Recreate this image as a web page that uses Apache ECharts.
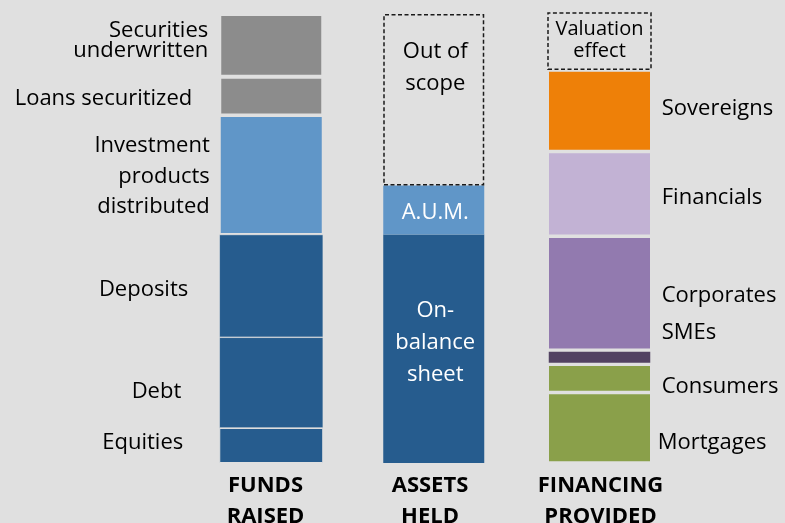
<!DOCTYPE html>
<html>
<head>
<meta charset="utf-8">
<script src="https://cdn.jsdelivr.net/npm/echarts@6/dist/echarts.min.js"></script>
<style>
  html, body { margin: 0; padding: 0; background: #e0e0e0; }
  #chart { width: 785px; height: 523px; }
</style>
</head>
<body>
<div id="chart"></div>
<script>
// ---- Data (stacked from bottom to top, share of total funds raised) ----
const categories = ['FUNDS\nRAISED', 'ASSETS\nHELD', 'FINANCING\nPROVIDED'];

const fundsNames  = ['Equities', 'Debt', 'Deposits', 'Investment\nproducts\ndistributed', 'Loans securitized', 'Securities\nunderwritten'];
const fundsValues = [7.8, 20.2, 22.9, 26.5, 8.6, 14.0];

const assetsNames  = ['On-\nbalance\nsheet', 'A.U.M.', 'Out of\nscope'];
const assetsValues = [50.9, 10.9, 38.2];

const financingNames  = ['Mortgages', 'Consumers', 'SMEs', 'Corporates', 'Financials', 'Sovereigns', 'Valuation\neffect'];
const financingValues = [15.7, 6.3, 3.1, 25.4, 18.9, 18.1, 12.9];

// ---- Styles ----
const BG = '#e0e0e0';
const FONT = "'Open Sans', 'Noto Sans', sans-serif";
const DARK = '#265c8e', LIGHT = '#6096c8', GRAY = '#8c8c8c', GREEN = '#8aa04a';

const fundsStyle = [
  { color: DARK,  bw: 1,   dist: 36,  dy: -2.5, lh: 24 },
  { color: DARK,  bw: 0.6, dist: 38,  dy: 9,    lh: 24 },
  { color: DARK,  bw: 0.6, dist: 31,  dy: 4,    lh: 24 },
  { color: LIGHT, bw: 1.5, dist: 9.5, dy: 1.5,  lh: 30.5 },
  { color: GRAY,  bw: 2,   dist: 27,  dy: 2.5,  lh: 24 },
  { color: GRAY,  bw: 2,   dist: 11,  dy: -4.5, lh: 19.5 }
];
const assetsStyle = [
  { color: DARK,  bw: 0, dy: -6,  lh: 32, text: '#ffffff' },
  { color: LIGHT, bw: 0, dy: 2.5, lh: 24, text: '#ffffff' },
  { color: 'rgba(0,0,0,0)', dashed: true, dy: -32, lh: 32, text: '#000000' }
];
const financingStyle = [
  { color: GREEN,     bw: 1.75, dist: 6,  dy: 14.5 },
  { color: GREEN,     bw: 1.75, dist: 10, dy: 8.5 },
  { color: '#524262', bw: 1.5,  dist: 10, dy: -25 },
  { color: '#927aaf', bw: 1.75, dist: 10, dy: 2 },
  { color: '#c2b2d4', bw: 1.75, dist: 10, dy: 3.8 },
  { color: '#ee8008', bw: 1.75, dist: 10, dy: -1.7 },
  { color: 'rgba(0,0,0,0)', dashed: true, dy: -0.5, lh: 22, inside: true }
];

function dataFor(catIdx, value) {
  return categories.map((_, i) => (i === catIdx ? value : '-'));
}

const series = [];

fundsNames.forEach((name, k) => {
  const s = fundsStyle[k];
  series.push({
    type: 'bar', name, stack: 'funds', barWidth: 104, barGap: '-100%',
    data: dataFor(0, fundsValues[k]),
    itemStyle: { color: s.color, borderColor: BG, borderWidth: s.bw },
    label: {
      show: true, position: 'left', distance: s.dist, offset: [0, s.dy],
      formatter: '{a}', color: '#000', fontFamily: FONT, fontSize: 22, lineHeight: s.lh
    }
  });
});

assetsNames.forEach((name, k) => {
  const s = assetsStyle[k];
  const itemStyle = s.dashed
    ? { color: s.color, borderColor: '#1a1a1a', borderWidth: 1.5, borderType: [4, 2.5] }
    : { color: s.color, borderColor: BG, borderWidth: s.bw };
  series.push({
    type: 'bar', name, stack: 'assets', barWidth: 101, barGap: '-100%',
    data: dataFor(1, assetsValues[k]),
    itemStyle,
    label: {
      show: true, position: 'inside', offset: [1.5, s.dy],
      formatter: '{a}', color: s.text, fontFamily: FONT, fontSize: 22, lineHeight: s.lh
    }
  });
});

financingNames.forEach((name, k) => {
  const s = financingStyle[k];
  const itemStyle = s.dashed
    ? { color: s.color, borderColor: '#1a1a1a', borderWidth: 1.5, borderType: [4, 2.5] }
    : { color: s.color, borderColor: BG, borderWidth: s.bw };
  const label = s.inside
    ? { show: true, position: 'inside', offset: [0, s.dy], formatter: '{a}', color: '#000',
        fontFamily: FONT, fontSize: 20, lineHeight: s.lh }
    : { show: true, position: 'right', distance: s.dist, offset: [0, s.dy], formatter: '{a}',
        color: '#000', fontFamily: FONT, fontSize: 22, lineHeight: 24 };
  series.push({
    type: 'bar', name, stack: 'financing', barWidth: 104.5, barGap: '-100%',
    data: dataFor(2, financingValues[k]),
    itemStyle, label
  });
});

const catPad = [[0, 12, 0, 0], [0, 11, 0, 0], [0, 0, 0, 2]];
const rich = {};
catPad.forEach((p, i) => {
  rich['c' + i] = { fontFamily: FONT, fontSize: 22, fontWeight: 'bold', color: '#000', lineHeight: 31, padding: p };
});

const chart = echarts.init(document.getElementById('chart'), null, { renderer: 'canvas' });
chart.setOption({
  backgroundColor: BG,
  animation: false,
  grid: { left: 189.5, right: 103.5, top: 9.5, bottom: 60, containLabel: false, outerBoundsMode: 'none' },
  xAxis: {
    type: 'category',
    data: categories,
    axisLine: { show: false },
    axisTick: { show: false },
    splitLine: { show: false },
    axisLabel: {
      interval: 0,
      margin: 7.5,
      formatter: (value, idx) => value.split('\n').map(l => '{c' + idx + '|' + l + '}').join('\n'),
      rich
    }
  },
  yAxis: {
    type: 'value', min: 0, max: 101, show: false,
    splitLine: { show: false }
  },
  series
});
</script>
</body>
</html>
